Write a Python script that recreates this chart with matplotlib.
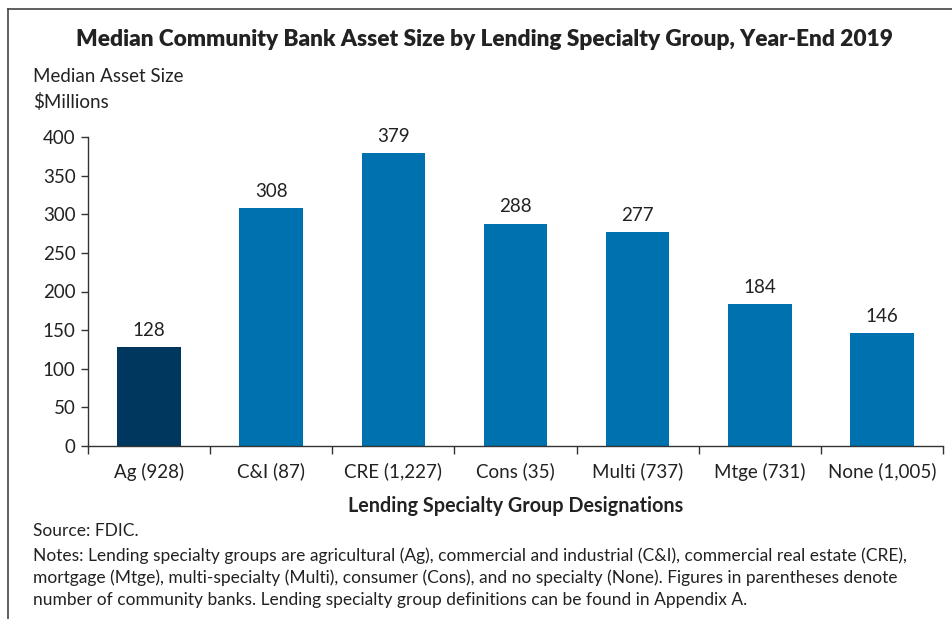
import matplotlib
matplotlib.use("Agg")
import matplotlib.pyplot as plt
from matplotlib.lines import Line2D

categories = ["Ag (928)", "C&I (87)", "CRE (1,227)", "Cons (35)", "Multi (737)", "Mtge (731)", "None (1,005)"]
values = [128, 308, 379, 288, 277, 184, 146]
colors = ["#00375E", "#0071AF", "#0071AF", "#0071AF", "#0071AF", "#0071AF", "#0071AF"]
yticks = [0, 50, 100, 150, 200, 250, 300, 350, 400]

title = "Median Community Bank Asset Size by Lending Specialty Group, Year-End 2019"
ylab1 = "Median Asset Size"
ylab2 = "$Millions"
xlab = "Lending Specialty Group Designations"
source = "Source: FDIC."
notes = ["Notes: Lending specialty groups are agricultural (Ag), commercial and industrial (C&I), commercial real estate (CRE),",
         "mortgage (Mtge), multi-specialty (Multi), consumer (Cons), and no specialty (None). Figures in parentheses denote",
         "number of community banks. Lending specialty group definitions can be found in Appendix A."]

plt.rcParams['font.family'] = ['Lato', 'DejaVu Sans']
txt = "#222222"
fs = 13.5

W, H = 952, 619
fig = plt.figure(figsize=(W/100, H/100), dpi=100)
ax = fig.add_axes([88/W, 1-446/H, (943-88)/W, (446-137)/H])

x = list(range(len(categories)))
ax.bar(x, values, width=0.52, color=colors)
for xi, v in zip(x, values):
    ax.annotate(str(v), (xi, v), xytext=(0, 6), textcoords="offset points",
                ha="center", va="bottom", fontsize=fs, color=txt)

ax.set_xlim(-0.5, len(categories)-0.5)
ax.set_ylim(0, 400)
ax.set_yticks(yticks)
ax.set_yticklabels([str(t) for t in yticks], fontsize=fs, color=txt)
ax.set_xticks(x)
ax.set_xticklabels(categories, fontsize=fs, color=txt)
ax.tick_params(axis='x', length=0, pad=12)
ax.set_xticks([i - 0.5 for i in range(len(categories)+1)], minor=True)
ax.tick_params(axis='x', which='minor', length=6, width=1, color="#333333", direction='out')
ax.tick_params(axis='y', length=5, width=1, color="#333333", direction='out', pad=4)
for s in ['top', 'right']:
    ax.spines[s].set_visible(False)
for s in ['left', 'bottom']:
    ax.spines[s].set_color("#333333")
    ax.spines[s].set_linewidth(1)

fig.text(485/W, 1-40/H, title, ha="center", va="center", fontsize=16.3, fontweight="heavy", color=txt)
fig.text(33/W, 1-77/H, ylab1, ha="left", va="center", fontsize=fs, color=txt)
fig.text(33/W, 1-102/H, ylab2, ha="left", va="center", fontsize=fs, color=txt)
fig.text(516/W, 1-506/H, xlab, ha="center", va="center", fontsize=14.2, fontweight="bold", color=txt)
fig.text(33/W, 1-531/H, source, ha="left", va="center", fontsize=12.5, color=txt)
for i, line in enumerate(notes):
    fig.text(33/W, 1-(556+22*i)/H, line, ha="left", va="center", fontsize=12.5, color=txt)

fig.add_artist(Line2D([8/W, 8/W], [0, 1-9/H], transform=fig.transFigure, color="#444444", lw=1.2))
fig.add_artist(Line2D([8/W, 1], [1-9/H, 1-9/H], transform=fig.transFigure, color="#444444", lw=1.2))

fig.savefig("out.png", dpi=100)
